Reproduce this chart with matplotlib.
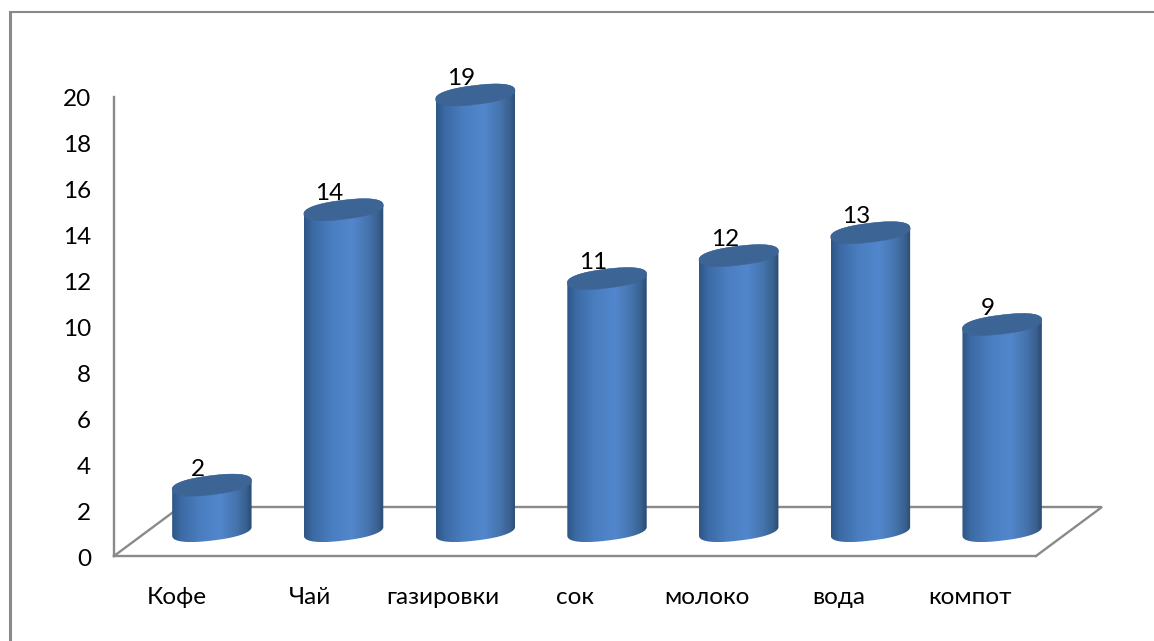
import numpy as np
import matplotlib
matplotlib.use("Agg")
import matplotlib.pyplot as plt
from matplotlib.colors import LinearSegmentedColormap
from matplotlib.lines import Line2D
from matplotlib.patches import PathPatch
from matplotlib.path import Path
from matplotlib.transforms import Affine2D, IdentityTransform

categories = ["Кофе", "Чай", "газировки", "сок", "молоко", "вода", "компот"]
values = [2, 14, 19, 11, 12, 13, 9]
y_ticks = list(range(0, 21, 2))

plt.rcParams["font.family"] = ["Lato", "Open Sans", "DejaVu Sans"]
W, H = 1154, 641
FS = 17.5
fig = plt.figure(figsize=(W / 100, H / 100), dpi=100, facecolor="white")
L, R, T, B = 114, 1036, 97, 556
ax = fig.add_axes([L / W, 1 - B / H, (R - L) / W, (B - T) / H])
ax.set_xlim(0, len(categories))
ax.set_ylim(0, 20)
GRAY = "#8a8a8a"
LW = 1.7
for s in ("top", "right"):
    ax.spines[s].set_visible(False)
for s in ("left", "bottom"):
    ax.spines[s].set_color(GRAY)
    ax.spines[s].set_linewidth(LW)
ax.set_xticks(np.arange(len(categories)) + 0.5, categories)
ax.set_yticks(y_ticks)
ax.tick_params(axis="both", length=0, labelsize=FS, colors="black")
ax.tick_params(axis="y", pad=16.5)
ax.tick_params(axis="x", pad=22.5)
lbl0 = ax.get_xticklabels()[0]
lbl0.set_transform(lbl0.get_transform() + Affine2D().translate(-3, 0))
lbl1 = ax.get_xticklabels()[1]
lbl1.set_transform(lbl1.get_transform() + Affine2D().translate(-2, 0))
for lbl in ax.get_yticklabels():
    lbl.set_transform(lbl.get_transform() + Affine2D().translate(0, -1))

# floor of the 3D box
dx, dy = 66 / ((R - L) / 7), 49 / ((B - T) / 20)
n = len(categories)
ax.plot([0, dx, n + dx, n], [0, dy, dy, 0], color=GRAY, lw=LW, clip_on=False, zorder=1,
        solid_joinstyle="miter")

cmap = LinearSegmentedColormap.from_list(
    "cyl", [(0, "#2f5686"), (0.12, "#3c6ba6"), (0.35, "#4a7ec0"), (0.6, "#5287cd"),
            (0.8, "#4674ae"), (0.93, "#39618f"), (1, "#2b4a72")])

BAR_W, CAP_H, ANG, P = 80, 19, 7.0, 0.85
off_x, off_y = 32, 25
fig.canvas.draw()


def ell_pts(cx, cy, t):
    a, b = BAR_W / 2, CAP_H / 2
    th = np.radians(ANG)
    c, s = np.cos(t), np.sin(t)
    x = a * np.sign(c) * np.abs(c) ** P
    y = b * np.sign(s) * np.abs(s) ** P
    return np.c_[cx + x * np.cos(th) - y * np.sin(th), cy + x * np.sin(th) + y * np.cos(th)]


for i, v in enumerate(values):
    bx, by = ax.transData.transform((i + 0.5, 0))
    tx, ty = ax.transData.transform((i + 0.5, v))
    bx += off_x; tx += off_x; by += off_y; ty += off_y
    low = ell_pts(bx, by, np.linspace(np.pi, 2 * np.pi, 60))
    up = ell_pts(tx, ty, np.linspace(0, np.pi, 60))
    verts = np.vstack([low, up, low[:1]])
    x0, x1 = verts[:, 0].min(), verts[:, 0].max()
    y0, y1 = verts[:, 1].min(), verts[:, 1].max()
    (dx0, dy0), (dx1, dy1) = ax.transData.inverted().transform([(x0, y0), (x1, y1)])
    im = ax.imshow(np.linspace(0, 1, 256)[None, :], cmap=cmap, aspect="auto", vmin=0, vmax=1,
                   extent=(dx0, dx1, dy0, dy1), zorder=3)
    im.set_clip_path(PathPatch(Path(verts), transform=IdentityTransform()))
    im.set_clip_box(fig.bbox)
    cap_path = Path(ell_pts(tx, ty, np.linspace(0, 2 * np.pi, 90)))
    ax.add_patch(PathPatch(cap_path, transform=IdentityTransform(), facecolor="#3c6596",
                           edgecolor="#3c6596", lw=0.3, zorder=4, clip_on=False))
    ax.annotate(str(v), (i + 0.5, v), xytext=(off_x - 14, off_y + 16), textcoords="offset pixels",
                ha="center", va="center", fontsize=FS, color="black", zorder=5,
                annotation_clip=False)

ax.set_xlim(0, len(categories))
ax.set_ylim(0, 20)

# outer chart frame: top and left edges only
fig.add_artist(Line2D([10 / W, 10 / W], [0, 1 - 11 / H], color=GRAY, lw=2.2,
                      solid_capstyle="butt"))
fig.add_artist(Line2D([9 / W, 1], [1 - 12 / H, 1 - 12 / H], color=GRAY, lw=1.5,
                      solid_capstyle="butt"))
fig.savefig("out.png", dpi=100, facecolor="white")
